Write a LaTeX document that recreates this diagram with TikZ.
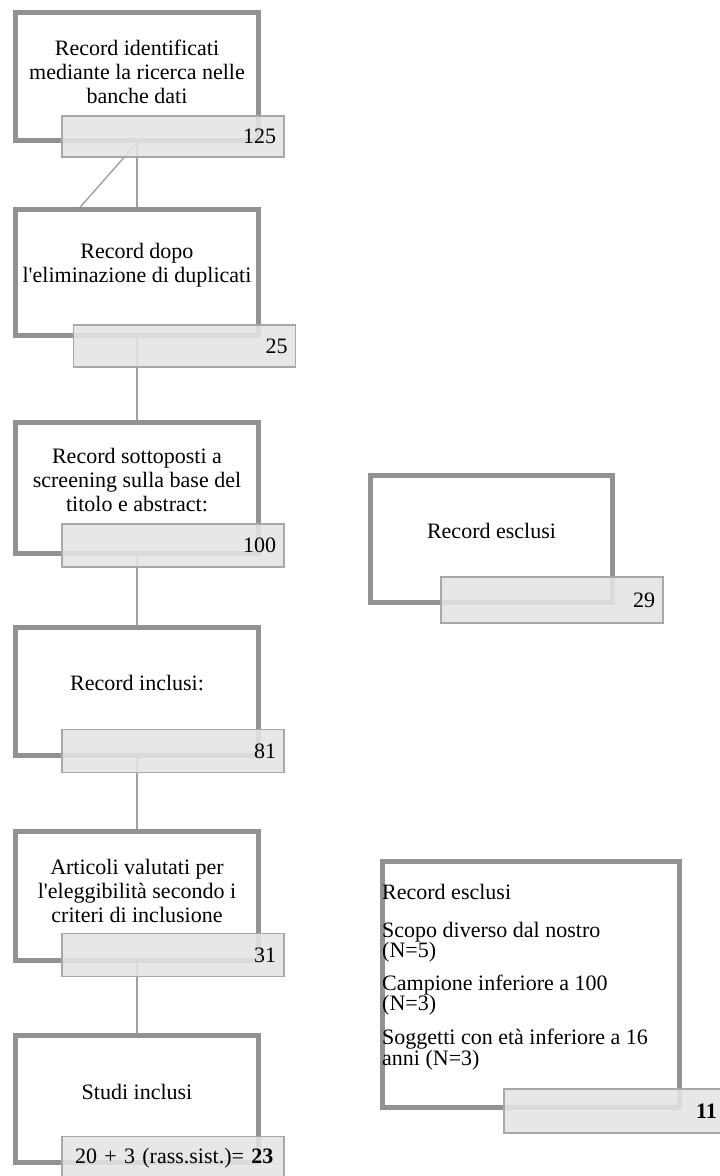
\documentclass[tikz,border=0pt]{standalone}
\usepackage{fontspec}
\setmainfont{Liberation Serif}
\usetikzlibrary{calc}
\definecolor{boxline}{RGB}{146,146,146}
\definecolor{barline}{RGB}{168,168,168}
\definecolor{barfill}{RGB}{228,228,228}
\definecolor{connc}{RGB}{160,160,160}
\begin{document}
\begin{tikzpicture}[x=1pt,y=-1pt,
  box/.style={draw=boxline, line width=4.5pt, minimum width=243pt, minimum height=128pt, inner sep=0pt, fill=white},
  bar/.style={draw=barline, fill=barfill, fill opacity=0.88, text opacity=1, line width=1.6pt, minimum height=43pt, text width=206pt, inner xsep=8pt, inner ysep=0pt, align=right, font=\fontsize{22}{24}\selectfont},
  txt/.style={align=center, font=\fontsize{22}{24}\selectfont, inner sep=0pt},
  conn/.style={draw=connc, line width=2.2pt}]
\useasboundingbox (0,0) rectangle (720,1176);
% main column boxes
\node[box] (b1) at (137,76.5) {};
\node[box, minimum height=126pt] (b2) at (137,272.5) {};
\node[box, minimum height=131pt] (b3) at (137,488) {};
\node[box] (b4) at (137,691.5) {};
\node[box, minimum height=129pt] (b5) at (137,896) {};
\node[box, minimum height=127pt] (b6) at (137,1099) {};
% right boxes
\node[box, minimum width=242pt, minimum height=127pt] (r1) at (491.5,539) {};
\node[box, minimum width=297pt, minimum height=246pt] (r2) at (531,984.5) {};
% connectors
\draw[conn] (b1.south) -- (b2.north);
\coordinate (d1) at ($(b2.north west)!0.27!(b2.north east)$);
\draw[conn, line width=1.4pt] (b1.south) -- (d1);
\draw[conn] (b2.south) -- (b3.north);
\draw[conn] (b3.south) -- (b4.north);
\draw[conn] (b4.south) -- (b5.north);
\draw[conn] (b5.south) -- (b6.north);
% bars
\node[bar, minimum height=41pt] (n1) at (173,136.5) {125};
\node[bar, minimum height=42pt] (n2) at (184.5,346) {25};
\node[bar] (n3) at (173,545.5) {100};
\node[bar] (n4) at (173,751) {81};
\node[bar] (n5) at (173,955) {31};
\node[bar, align=left, inner xsep=13pt, text width=196pt] (n6) at (173,1158) {\mbox{20 + 3 (rass.sist.)= \textbf{23}}};
\node[bar, minimum height=46pt] (m1) at (552,600) {29};
\node[bar, minimum height=44pt, text width=207pt, inner xsep=12pt] (m2) at (619.5,1111) {};
\node[txt, anchor=east] (m2n) at (717,1111) {\textbf{11}};
% texts
\node[txt] (t1) at ([yshift=5pt]b1.center) {Record identificati\\mediante la ricerca nelle\\banche dati};
\node[txt] (t2) at ([yshift=7pt]b2.center) {Record dopo\\l\textquotesingle eliminazione di duplicati};
\node[txt] (t3) at ([yshift=8pt]b3.center) {Record sottoposti a\\screening sulla base del\\titolo e abstract:};
\node[txt] (t4) at ([yshift=8pt]b4.center) {Record inclusi:};
\node[txt] (t5) at ([yshift=5pt]b5.center) {Articoli valutati per\\l\textquotesingle eleggibilità secondo i\\criteri di inclusione};
\node[txt] (t6) at ([yshift=7pt]b6.center) {Studi inclusi};
\node[txt] (s1) at ([yshift=8pt]r1.center) {Record esclusi};
\node[txt, align=left, anchor=north west, font=\fontsize{22}{20}\selectfont] (s2) at (382,884) {Record esclusi\\[18pt]Scopo diverso dal nostro\\(N=5)\\[12pt]Campione inferiore a 100\\(N=3)\\[13pt]Soggetti con età inferiore a 16\\anni (N=3)};
\end{tikzpicture}
\end{document}
